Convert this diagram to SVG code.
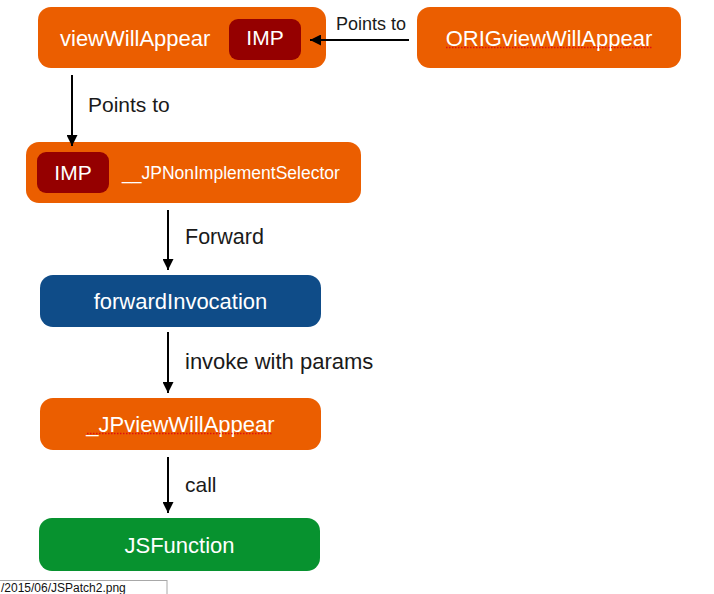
<svg xmlns="http://www.w3.org/2000/svg" width="714" height="594" viewBox="0 0 714 594">
<defs>
<style>
.orange{fill:#EB5E00}
.imp{fill:#950000}
.blue{fill:#0F4C88}
.green{fill:#07922F}
.t{font-family:"Liberation Sans",Arial,sans-serif;font-size:22px;fill:#ffffff}
.lbl{font-family:"Liberation Sans",Arial,sans-serif;font-size:21px;fill:#1a1a1a}
.edge{stroke:#000;stroke-width:2;fill:none}
.spell{stroke:#e01010;stroke-width:1.5;stroke-dasharray:1.5 1.5;fill:none}
</style>
<marker id="ah" viewBox="0 0 10 10" refX="10" refY="5" markerWidth="5.5" markerHeight="5.5" orient="auto" markerUnits="strokeWidth">
<path d="M0,0 L10,5 L0,10 z" fill="#000"/>
</marker>
</defs>
<rect width="714" height="594" fill="#ffffff"/>
<g id="n-viewWillAppear">
<rect class="orange" x="38" y="7" width="288" height="61" rx="13"/>
<text class="t" x="60" y="45.5">viewWillAppear</text>
<rect class="imp" x="229" y="19" width="72" height="41" rx="9"/>
<text class="t" x="265" y="45" text-anchor="middle" style="font-size:21px">IMP</text>
</g>
<g id="n-orig">
<rect class="orange" x="417" y="7" width="264" height="61" rx="13"/>
<text class="t" x="549" y="45.5" text-anchor="middle">ORIGviewWillAppear</text>
<line class="spell" x1="446" y1="47.5" x2="652" y2="47.5"/>
</g>
<g id="n-nonimpl">
<rect class="orange" x="26" y="142" width="335" height="61" rx="13"/>
<rect class="imp" x="37" y="152" width="72" height="41" rx="9"/>
<text class="t" x="73" y="180" text-anchor="middle" style="font-size:21px">IMP</text>
<text class="t" x="122" y="179" style="font-size:17.5px">__JPNonImplementSelector</text>
</g>
<g id="n-forward">
<rect class="blue" x="40" y="275" width="281" height="52" rx="13"/>
<text class="t" x="180.5" y="309" text-anchor="middle">forwardInvocation</text>
</g>
<g id="n-jpview">
<rect class="orange" x="40" y="398" width="281" height="52" rx="13"/>
<text class="t" x="180.5" y="431.5" text-anchor="middle">_JPviewWillAppear</text>
<line class="spell" x1="87" y1="433.5" x2="273" y2="433.5"/>
</g>
<g id="n-jsfunction">
<rect class="green" x="39" y="518" width="281" height="53" rx="13"/>
<text class="t" x="179.5" y="552.5" text-anchor="middle">JSFunction</text>
</g>
<g id="connectors">
<line class="edge" x1="409" y1="40" x2="310" y2="40" marker-end="url(#ah)"/>
<text class="lbl" x="336" y="30" style="font-size:18px">Points to</text>
<line class="edge" x1="72" y1="75" x2="72" y2="146" marker-end="url(#ah)"/>
<text class="lbl" x="88" y="112">Points to</text>
<line class="edge" x1="168" y1="210" x2="168" y2="270" marker-end="url(#ah)"/>
<text class="lbl" x="185" y="244" style="font-size:21.5px">Forward</text>
<line class="edge" x1="168" y1="332" x2="168" y2="393" marker-end="url(#ah)"/>
<text class="lbl" x="185" y="369" style="font-size:22px">invoke with params</text>
<line class="edge" x1="168" y1="457" x2="168" y2="513" marker-end="url(#ah)"/>
<text class="lbl" x="185" y="492">call</text>
</g>
<g id="url-bar">
<rect x="-2" y="580.5" width="169" height="20" fill="#ffffff" stroke="#a8a8a8" stroke-width="1"/>
<text x="1" y="592" style="font-family:'Liberation Sans',Arial,sans-serif;font-size:12px;fill:#111">/2015/06/JSPatch2.png</text>
</g>
</svg>
